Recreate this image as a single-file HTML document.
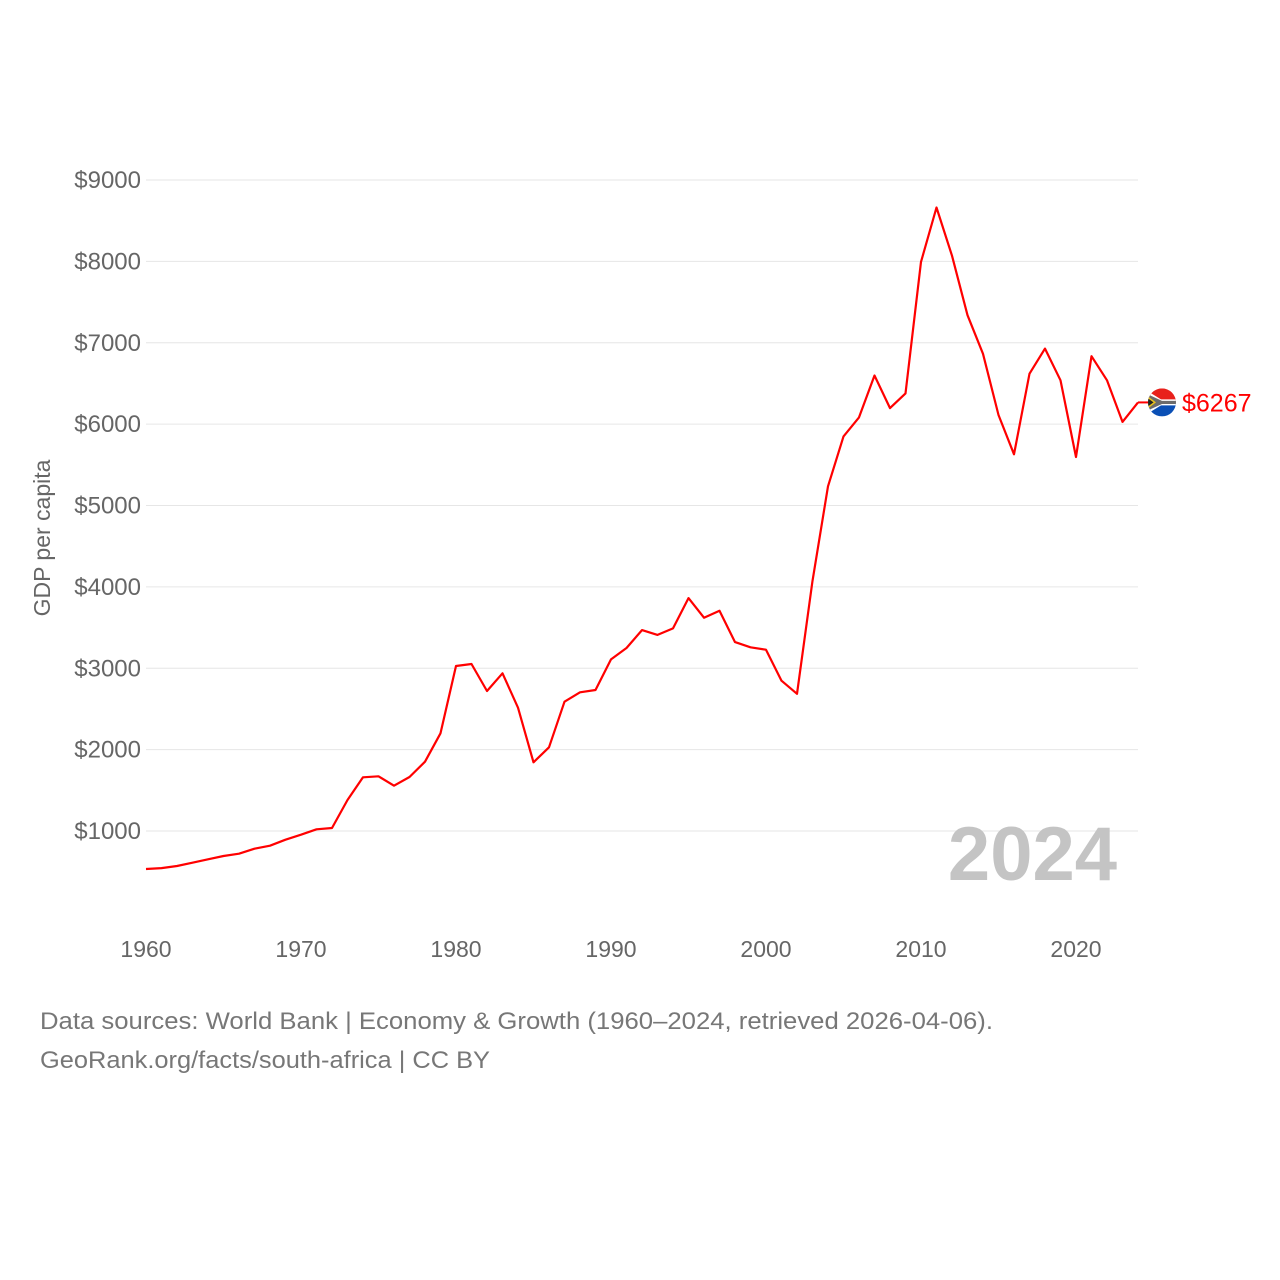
<!DOCTYPE html>
<html><head><meta charset="utf-8"><style>
body{margin:0;background:#fff;}
svg{display:block;font-family:"Liberation Sans",sans-serif;}
</style></head><body>
<svg id="chart" width="1280" height="1280" viewBox="0 0 1280 1280">
<g id="grid"></g>
<g id="yticks"></g>
<g id="xticks"></g>
<text x="50" y="538" transform="rotate(-90 50 538)" text-anchor="middle" font-size="23" fill="#666">GDP per capita</text>
<text x="1117" y="880" text-anchor="end" font-size="76" font-weight="bold" fill="#c4c4c4">2024</text>
<path id="line" fill="none" stroke="#ff0000" stroke-width="2.2" stroke-linejoin="round"></path>
<g id="endmark"></g>
<text x="40" y="1029" font-size="24" fill="#777" textLength="953" lengthAdjust="spacingAndGlyphs">Data sources: World Bank | Economy &amp; Growth (1960–2024, retrieved 2026-04-06).</text>
<text x="40" y="1068" font-size="24" fill="#777" textLength="450" lengthAdjust="spacingAndGlyphs">GeoRank.org/facts/south-africa | CC BY</text>
</svg>
<script>
const years = [];
for (let y = 1960; y <= 2024; y++) years.push(y);
const gdp = [533,545,570,611,652,693,721,783,820,893,955,1021,1037,1381,1660,1672,1557,1664,1852,2201,
3028,3052,2721,2938,2516,1845,2029,2589,2705,2733,3109,3249,3469,3410,3490,3862,3621,3706,3322,3258,
3228,2847,2686,4074,5236,5849,6083,6598,6197,6378,7994,8662,8070,7339,6865,6112,5629,6620,6929,6539,
5596,6835,6539,6028,6267];
const yTicks = [1000,2000,3000,4000,5000,6000,7000,8000,9000];
const xTicks = [1960,1970,1980,1990,2000,2010,2020];
const lastLabel = "$6267";

const NS = "http://www.w3.org/2000/svg";
const X0 = 146, X1 = 1138;
const xs = y => X0 + (y - 1960) * (X1 - X0) / 64;
const ys = v => 912.4 - v * 0.081375;
function mk(tag, attrs, parent){const e=document.createElementNS(NS,tag);for(const k in attrs)e.setAttribute(k,attrs[k]);parent.appendChild(e);return e;}

const grid=document.getElementById('grid'), yt=document.getElementById('yticks'), xt=document.getElementById('xticks');
yTicks.forEach(v=>{
  const l=mk('line',{x1:146,x2:X1,y1:ys(v),y2:ys(v),stroke:'#e6e6e6','stroke-width':1},grid);
  
  
  const t=mk('text',{x:141,y:ys(v)+8,'text-anchor':'end','font-size':24,fill:'#666'},yt);
  t.textContent='$'+v;
  
  
});
xTicks.forEach(v=>{
  const t=mk('text',{x:xs(v),y:957,'text-anchor':'middle','font-size':23,fill:'#666'},xt);
  t.textContent=v;
  
  
});
document.getElementById('line').setAttribute('d', gdp.map((v,i)=>(i?'L':'M')+xs(years[i]).toFixed(1)+' '+ys(v).toFixed(1)).join(' '));

const em=document.getElementById('endmark');
const lx=xs(years[years.length-1]), ly=ys(gdp[gdp.length-1]);
const cx=lx+24, cy=ly;
const dash=mk('line',{x1:lx,x2:cx-14,y1:ly,y2:ly,stroke:'#ff0000','stroke-width':2},em);


const defs=mk('defs',{},em);
const cp=mk('clipPath',{id:'fc'},defs);
mk('circle',{cx:cx,cy:cy,r:14},cp);
const flag=mk('g',{'clip-path':'url(#fc)'},em);


mk('rect',{x:cx-14,y:cy-14,width:28,height:14,fill:'#e8211c'},flag);
mk('rect',{x:cx-14,y:cy,width:28,height:14,fill:'#0a4fb5'},flag);
mk('path',{d:`M${cx-14} ${cy-11} L${cx-1} ${cy-3} L${cx+14} ${cy-3} L${cx+14} ${cy+3} L${cx-1} ${cy+3} L${cx-14} ${cy+11} Z`,fill:'#fff'},flag);
mk('path',{d:`M${cx-14} ${cy-8} L${cx} ${cy-1.6} L${cx+14} ${cy-1.6} L${cx+14} ${cy+1.6} L${cx} ${cy+1.6} L${cx-14} ${cy+8} Z`,fill:'#6b6b6b'},flag);
mk('path',{d:`M${cx-14} ${cy-6} L${cx-6} ${cy} L${cx-14} ${cy+6} Z`,fill:'#e8c21c'},flag);
mk('path',{d:`M${cx-14} ${cy-4} L${cx-8.5} ${cy} L${cx-14} ${cy+4} Z`,fill:'#222'},flag);
const lab=mk('text',{x:cx+20,y:cy+9,'font-size':25,fill:'#ff0000'},em);
lab.textContent=lastLabel;


</script>
</body></html>
